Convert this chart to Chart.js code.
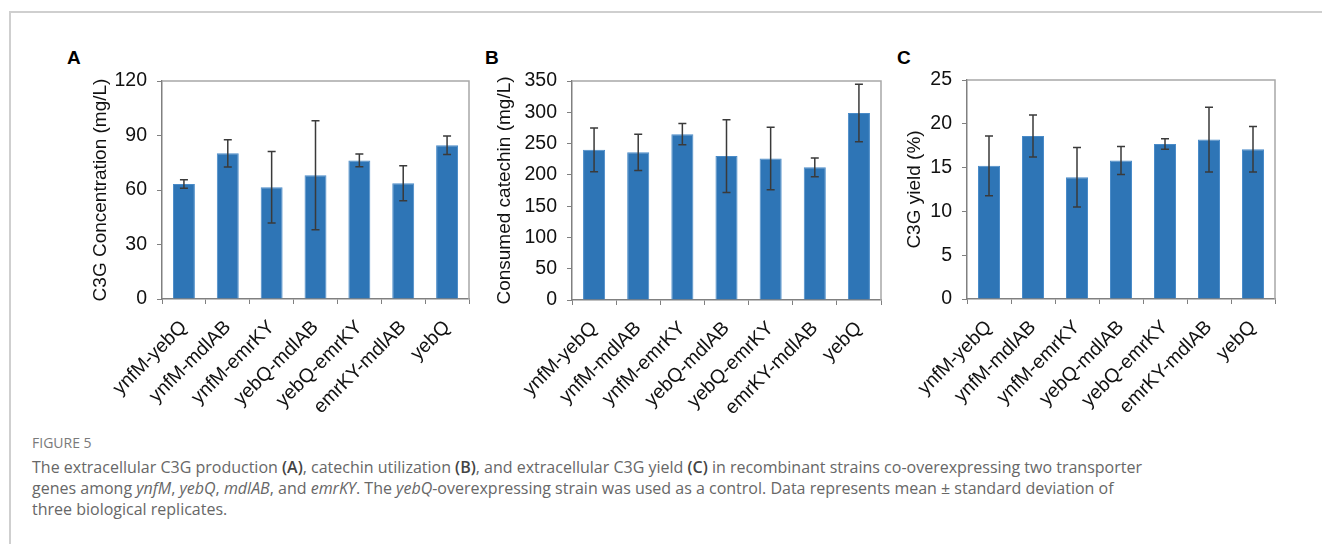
<!DOCTYPE html>
<html>
<head>
<meta charset="utf-8">
<script src="https://cdn.jsdelivr.net/npm/chart.js@4.4.1/dist/chart.umd.min.js"></script>
<style>
  html, body { margin: 0; padding: 0; background: #fff; }
  body { width: 1322px; height: 544px; position: relative; overflow: hidden; }
  .frame { position: absolute; left: 9px; top: 11px; width: 1400px; height: 600px;
           border-top: 2px solid #cfcfcf; border-left: 2px solid #cfcfcf; }
  .panel { position: absolute; }
  .letter { position: absolute; font: bold 19px 'Liberation Sans', Arial, sans-serif; color: #000; line-height: 19px; }
  .figno { position: absolute; left: 32px; top: 435px; font: 14px 'Open Sans', sans-serif;
           line-height: 16px; color: #7a7a7a; }
  .cap { position: absolute; left: 32px; top: 457px; font: 16px 'Open Sans', sans-serif;
         line-height: 21px; color: #676767; white-space: nowrap; }
  .cap b { color: #444; font-weight: 600; }
</style>
</head>
<body>
<div class="frame"></div>

<div class="letter" style="left:67px; top:48px;">A</div>
<div class="letter" style="left:485px; top:48px;">B</div>
<div class="letter" style="left:897px; top:48px;">C</div>

<canvas id="chartA" class="panel" style="left:89px; top:50px;" width="390" height="370"></canvas>
<canvas id="chartB" class="panel" style="left:493px; top:50px;" width="398" height="370"></canvas>
<canvas id="chartC" class="panel" style="left:903px; top:50px;" width="382" height="370"></canvas>

<div class="figno">FIGURE 5</div>
<div class="cap">The extracellular C3G production <b>(A)</b>, catechin utilization <b>(B)</b>, and extracellular C3G yield <b>(C)</b> in recombinant strains co-overexpressing two transporter<br>genes among <i>ynfM</i>, <i>yebQ</i>, <i>mdlAB</i>, and <i>emrKY</i>. The <i>yebQ</i>-overexpressing strain was used as a control. Data represents mean ± standard deviation of<br>three biological replicates.</div>

<script>
const strains = ['ynfM-yebQ', 'ynfM-mdlAB', 'ynfM-emrKY', 'yebQ-mdlAB', 'yebQ-emrKY', 'emrKY-mdlAB', 'yebQ'];

// (A) C3G concentration, mg/L
const c3gConc = [63.3, 80.2, 61.5, 68.1, 76.3, 63.7, 84.6];
const c3gConcSd = [2.3, 7.5, 19.7, 30.0, 3.5, 9.6, 5.1];

// (B) consumed catechin, mg/L
const catechin = [240, 236, 265, 230, 226, 212, 299];
const catechinSd = [35, 29, 17, 58, 50, 15, 46];

// (C) C3G yield, %
const c3gYield = [15.2, 18.6, 13.9, 15.8, 17.7, 18.2, 17.1];
const c3gYieldSd = [3.4, 2.4, 3.4, 1.6, 0.6, 3.7, 2.6];

const FONT = "'Liberation Sans', Arial, sans-serif";

// error bars + top/right frame of the plot box
const errorBars = {
  id: 'errorBars',
  beforeDatasetsDraw(chart) {
    const { ctx, chartArea: a } = chart;
    ctx.save();
    ctx.strokeStyle = '#a8a8a8';
    ctx.lineWidth = 1.5;
    ctx.beginPath();
    ctx.moveTo(a.left, a.top);
    ctx.lineTo(a.right, a.top);
    ctx.lineTo(a.right, a.bottom);
    ctx.stroke();
    ctx.restore();
  },
  afterDatasetsDraw(chart, args, opts) {
    const { ctx } = chart;
    const y = chart.scales.y;
    const ds = chart.data.datasets[0];
    const meta = chart.getDatasetMeta(0);
    ctx.save();
    ctx.strokeStyle = '#3a3a3a';
    ctx.lineWidth = 1.5;
    meta.data.forEach((bar, i) => {
      const v = ds.data[i], e = opts.sd[i];
      const yt = y.getPixelForValue(v + e);
      const yb = y.getPixelForValue(v - e);
      const x = bar.x;
      ctx.beginPath();
      ctx.moveTo(x, yt); ctx.lineTo(x, yb);
      ctx.moveTo(x - 4, yt); ctx.lineTo(x + 4, yt);
      ctx.moveTo(x - 4, yb); ctx.lineTo(x + 4, yb);
      ctx.stroke();
    });
    ctx.restore();
  }
};

function makeChart(id, values, sd, yMax, yStep, yTitle, yWidth, xHeight, padTop) {
  return new Chart(document.getElementById(id), {
    type: 'bar',
    data: {
      labels: strains,
      datasets: [{
        data: values,
        backgroundColor: '#2e75b6',
        borderColor: '#4a8bc8',
        borderWidth: 1,
        barPercentage: 0.5,
        categoryPercentage: 1.0
      }]
    },
    options: {
      responsive: false,
      animation: false,
      layout: { padding: { top: padTop, right: 10, left: 0, bottom: 0 } },
      plugins: {
        legend: { display: false },
        tooltip: { enabled: false },
        errorBars: { sd: sd }
      },
      scales: {
        x: {
          grid: { display: true, drawOnChartArea: false, offset: true, color: '#808080', tickLength: 5, lineWidth: 1 },
          border: { color: '#808080', width: 1.5 },
          ticks: { color: '#111', font: { family: FONT, size: 19.5 }, maxRotation: 45, minRotation: 45, padding: 12 },
          afterFit(scale) { scale.height = xHeight; }
        },
        y: {
          min: 0,
          max: yMax,
          ticks: { stepSize: yStep, color: '#111', font: { family: FONT, size: 19.5 }, padding: 10 },
          grid: { display: true, drawOnChartArea: false, color: '#808080', tickLength: 5, lineWidth: 1 },
          border: { color: '#808080', width: 1.5 },
          title: { display: true, text: yTitle, color: '#111', font: { family: FONT, size: 19 }, padding: 0 },
          afterFit(scale) { scale.width = yWidth; }
        }
      }
    },
    plugins: [errorBars]
  });
}

makeChart('chartA', c3gConc, c3gConcSd, 120, 30, 'C3G Concentration (mg/L)', 73, 121, 31);
makeChart('chartB', catechin, catechinSd, 350, 50, 'Consumed catechin (mg/L)', 79, 120, 31);
makeChart('chartC', c3gYield, c3gYieldSd, 25, 5, 'C3G yield (%)', 64, 121, 30);
</script>
</body>
</html>
